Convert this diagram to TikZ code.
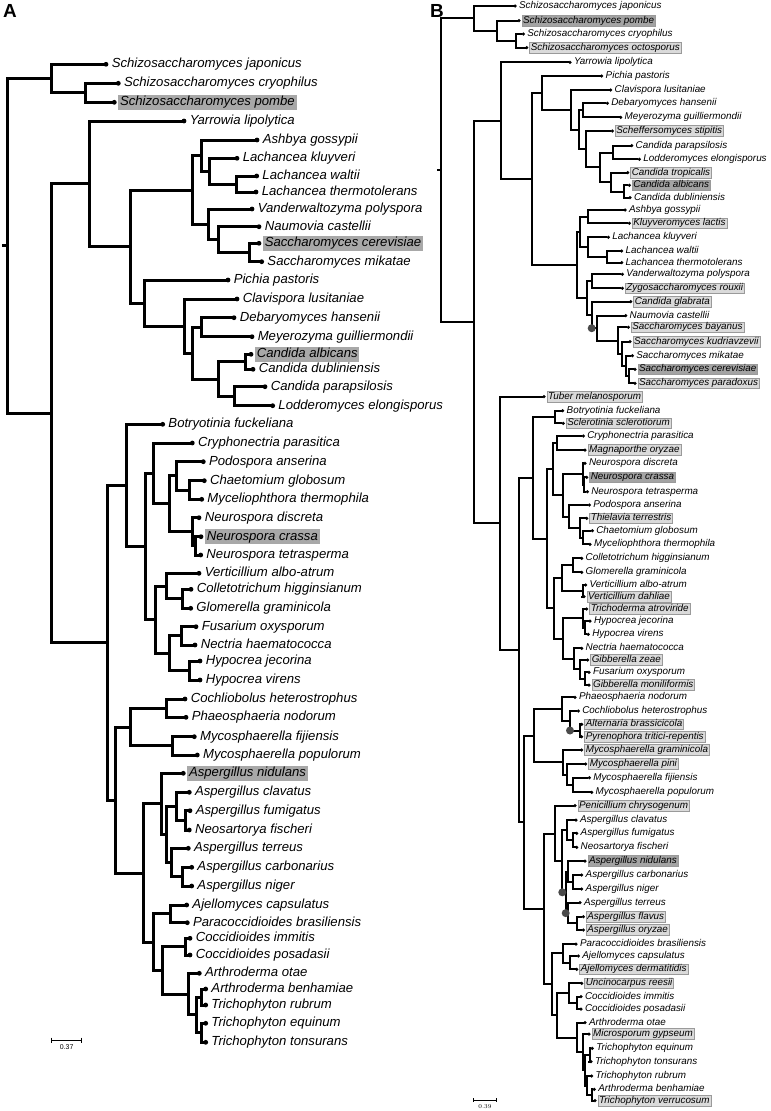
\documentclass[tikz,border=0pt]{standalone}
\usepackage{fontspec}
\usepackage{tikz}
\usepackage{xcolor}
\usetikzlibrary{positioning}
\newfontfamily\treefont{Liberation Sans}
\definecolor{phyInk}{HTML}{000000}
\definecolor{phyHi}{HTML}{A8A8A8}
\definecolor{phyHiB}{HTML}{A3A3A3}
\definecolor{phyNew}{HTML}{DADADA}
\definecolor{phyEdge}{HTML}{9A9A9A}
\definecolor{phyEvt}{HTML}{4A4A4A}
\tikzset{
  brA/.style={line width=3bp,draw=phyInk,line cap=rect},
  brB/.style={line width=2bp,draw=phyInk,line cap=rect},
  dotA/.style={circle,fill=phyInk,inner sep=0pt,minimum size=4.8bp},
  dotB/.style={circle,fill=phyInk,inner sep=0pt,minimum size=3.5bp},
  labA/.style={font=\treefont\itshape\fontsize{13.2}{15}\selectfont,inner xsep=1.8pt,inner ysep=1.2pt,
               text height=9.6pt,text depth=2.8pt},
  hiA/.style={labA,fill=phyHi},
  labB/.style={font=\treefont\itshape\fontsize{9.9}{11}\selectfont,inner xsep=1.3pt,inner ysep=0.8pt,
               text height=7.2pt,text depth=2.1pt},
  hiB/.style={labB,fill=phyHiB,draw=phyEdge,line width=0.5pt},
  newB/.style={labB,fill=phyNew,draw=phyEdge,line width=0.5pt},
  evt/.style={fill=phyEvt},
  panel/.style={font=\treefont\bfseries\fontsize{19}{21}\selectfont,inner sep=0pt},
  bar/.style={line width=0.7pt,draw=phyInk},
}

\begin{document}
\begin{tikzpicture}[x=1bp,y=-1bp]
  \fill[white] (0,0) rectangle (771,1111);
  \useasboundingbox (0,0) rectangle (771,1111);
  \node[panel] (pA) at (10,11) {A};
  \node[panel] (pB) at (437,11) {B};

  \foreach \n/\x/\y/\t/\s in {
    a1/106/64.3/Schizosaccharomyces japonicus/labA,
    a2/118.3/83.3/Schizosaccharomyces cryophilus/labA,
    a3/114.3/102.3/Schizosaccharomyces pombe/hiA,
    a4/184/121/Yarrowia lipolytica/labA,
    a5/257/140/Ashbya gossypii/labA,
    a6/237/158.3/Lachancea kluyveri/labA,
    a7/256.7/176/Lachancea waltii/labA,
    a8/256/192/Lachancea thermotolerans/labA,
    a9/252/209/Vanderwaltozyma polyspora/labA,
    a10/259/226.7/Naumovia castellii/labA,
    a11/259/243.3/Saccharomyces cerevisiae/hiA,
    a12/261.7/261.7/Saccharomyces mikatae/labA,
    a13/228/280/Pichia pastoris/labA,
    a14/237/299/Clavispora lusitaniae/labA,
    a15/234/317.7/Debaryomyces hansenii/labA,
    a16/252/336.7/Meyerozyma guilliermondii/labA,
    a17/251/354.3/Candida albicans/hiA,
    a18/253/369.3/Candida dubliniensis/labA,
    a19/265/386.7/Candida parapsilosis/labA,
    a20/272.7/405.7/Lodderomyces elongisporus/labA,
    a21/162.7/424.3/Botryotinia fuckeliana/labA,
    a22/192.3/443/Cryphonectria parasitica/labA,
    a23/203.3/461.7/Podospora anserina/labA,
    a24/204.3/480.7/Chaetomium globosum/labA,
    a25/201.7/499.3/Myceliophthora thermophila/labA,
    a26/199/517.7/Neurospora discreta/labA,
    a27/201/536.7/Neurospora crassa/hiA,
    a28/200.7/555/Neurospora tetrasperma/labA,
    a29/199/573.3/Verticillium albo-atrum/labA,
    a30/191/589.3/Colletotrichum higginsianum/labA,
    a31/190.7/608.3/Glomerella graminicola/labA,
    a32/196/626.7/Fusarium oxysporum/labA,
    a33/195/645/Nectria haematococca/labA,
    a34/200/661/Hypocrea jecorina/labA,
    a35/200/680/Hypocrea virens/labA,
    a36/185/699/Cochliobolus heterostrophus/labA,
    a37/186/717.3/Phaeosphaeria nodorum/labA,
    a38/194.3/736.7/Mycosphaerella fijiensis/labA,
    a39/197.3/755/Mycosphaerella populorum/labA,
    a40/183.3/773.3/Aspergillus nidulans/hiA,
    a41/189.3/792.3/Aspergillus clavatus/labA,
    a42/190/810.7/Aspergillus fumigatus/labA,
    a43/189.3/830/Neosartorya fischeri/labA,
    a44/188.3/848.3/Aspergillus terreus/labA,
    a45/191.7/867.3/Aspergillus carbonarius/labA,
    a46/191.7/886/Aspergillus niger/labA,
    a47/186.7/905/Ajellomyces capsulatus/labA,
    a48/187.3/922.7/Paracoccidioides brasiliensis/labA,
    a49/190/938.3/Coccidioides immitis/labA,
    a50/190/955/Coccidioides posadasii/labA,
    a51/199.3/973.3/Arthroderma otae/labA,
    a52/205.7/989/Arthroderma benhamiae/labA,
    a53/205.7/1005/Trichophyton rubrum/labA,
    a54/205.7/1023.3/Trichophyton equinum/labA,
    a55/205.7/1042.3/Trichophyton tonsurans/labA}{
    \node[dotA] (\n) at (\x,\y) {};
    \node[\s,right=1.2pt of \n] (t\n) {\t};
  }

  \foreach \n/\x/\y in {
    aRoot/7.5/245.9, aStub/3.5/245.9, aSz/51.5/78.5, aCP/85/92.8, aR/51.5/413.5,
    aY/89.5/183.5, aSc/130.5/246.5, aSac/192.7/190, aL/201/155.6, aLK/209.3/171.2,
    aLWT/236/184, aN/208.3/224.3, aNC/218.3/239.6, aCM/249.3/252.5,
    aCTG/144.5/303.5, aCT/184.3/326, aDC/192.7/353.1, aD/201.7/327.2, aC/218.3/379,
    aCA/245/361.8, aCPL/234.3/396.2,
    aP/107.5/642.5, aLS/126.5/485.5, aSO/145.5/546.5, aSA/153.3/473.5, aSB/169.3/503.9,
    aPod/176.7/475.9, aCMy/189.3/490, aNeu/192.7/531.8, aNT/195/545.9,
    aSC/155.5/619.5, aVe/166/586, aCG/182.7/598.8, aHy/169.3/653.2, aFN/181.7/635.9,
    aHH/189.3/670.5,
    aDE/115.5/800.5, aDO/130.5/727, aCPh/166.7/708.2, aMF/172.7/745.9,
    aEU/143.5/873.5, aAS/161.5/803.5, aAS2/166.7/834.4, aCFF/176.7/806.3, aFF/185/820.4,
    aTCN/171.7/862.5, aCN/182.7/876.7, aON/153.5/942.5, aAjP/170/913.9,
    aCoA/162.3/970.4, aCo/185/946.7, aAR/188.3/994.1, aAR2/196.7/1014.9,
    aBR/201.7/997, aET/201.7/1032.8}
    \coordinate (\n) at (\x,\y);

  \draw[brA] (aStub) -- (aRoot);
  \foreach \p/\u/\d in {
    aRoot/aSz/aR, aSz/a1/aCP, aCP/a2/a3, aR/aY/aP, aY/a4/aSc, aSc/aSac/aCTG,
    aSac/aL/aN, aL/a5/aLK, aLK/a6/aLWT, aLWT/a7/a8, aN/a9/aNC, aNC/a10/aCM, aCM/a11/a12,
    aCTG/a13/aCT, aCT/a14/aDC, aDC/aD/aC, aD/a15/a16, aC/aCA/aCPL, aCA/a17/a18, aCPL/a19/a20,
    aP/aLS/aDE, aLS/a21/aSO, aSO/aSA/aSC, aSA/a22/aSB, aSB/aPod/aNeu, aPod/a23/aCMy,
    aCMy/a24/a25, aNeu/a26/aNT, aNT/a27/a28, aSC/aVe/aHy, aVe/a29/aCG, aCG/a30/a31,
    aHy/aFN/aHH, aFN/a32/a33, aHH/a34/a35,
    aDE/aDO/aEU, aDO/aCPh/aMF, aCPh/a36/a37, aMF/a38/a39, aEU/aAS/aON, aAS/a40/aAS2,
    aAS2/aCFF/aTCN, aCFF/a41/aFF, aFF/a42/a43, aTCN/a44/aCN, aCN/a45/a46,
    aON/aAjP/aCoA, aAjP/a47/a48, aCoA/aCo/aAR, aCo/a49/a50, aAR/a51/aAR2,
    aAR2/aBR/aET, aBR/a52/a53, aET/a54/a55}{
    \draw[brA] (\p |- \u) -- (\p |- \d);
    \draw[brA] (\p |- \u) -- (\u);
    \draw[brA] (\p |- \d) -- (\d);
  }

  \foreach \n/\x/\y/\t/\s in {
    b1/515/6/Schizosaccharomyces japonicus/labB,
    b2/519/20.7/Schizosaccharomyces pombe/hiB,
    b3/523.3/34/Schizosaccharomyces cryophilus/labB,
    b4/526.7/47.7/Schizosaccharomyces octosporus/newB,
    b5/570/62.3/Yarrowia lipolytica/labB,
    b6/601.7/76/Pichia pastoris/labB,
    b7/610.7/90/Clavispora lusitaniae/labB,
    b8/607.3/103.3/Debaryomyces hansenii/labB,
    b9/620.7/117.3/Meyerozyma guilliermondii/labB,
    b10/612.3/131/Scheffersomyces stipitis/newB,
    b11/631.7/145.7/Candida parapsilosis/labB,
    b12/639.3/159.3/Lodderomyces elongisporus/labB,
    b13/627.7/172.7/Candida tropicalis/newB,
    b14/629.3/185.3/Candida albicans/hiB,
    b15/630/197.7/Candida dubliniensis/labB,
    b16/625/210/Ashbya gossypii/labB,
    b17/629.3/223.3/Kluyveromyces lactis/newB,
    b18/608.3/237.3/Lachancea kluyveri/labB,
    b19/621.7/251/Lachancea waltii/labB,
    b20/621.7/262.7/Lachancea thermotolerans/labB,
    b21/622.3/274.3/Vanderwaltozyma polyspora/labB,
    b22/622.3/288.3/Zygosaccharomyces rouxii/newB,
    b23/630.7/301.7/Candida glabrata/newB,
    b24/625.7/315.7/Naumovia castellii/labB,
    b25/628.3/327.3/Saccharomyces bayanus/newB,
    b26/630/341.7/Saccharomyces kudriavzevii/newB,
    b27/632.3/355.7/Saccharomyces mikatae/labB,
    b28/635/369.3/Saccharomyces cerevisiae/hiB,
    b29/635/383.3/Saccharomyces paradoxus/newB,
    b30/544/396.7/Tuber melanosporum/newB,
    b31/562.7/410.7/Botryotinia fuckeliana/labB,
    b32/563.3/423.3/Sclerotinia sclerotiorum/newB,
    b33/583.3/436/Cryphonectria parasitica/labB,
    b34/585/450/Magnaporthe oryzae/newB,
    b35/585/463.3/Neurospora discreta/labB,
    b36/586.7/477.3/Neurospora crassa/hiB,
    b37/587.3/491.7/Neurospora tetrasperma/labB,
    b38/589.3/505/Podospora anserina/labB,
    b39/586.7/518.3/Thielavia terrestris/newB,
    b40/592.3/530.7/Chaetomium globosum/labB,
    b41/590/544.3/Myceliophthora thermophila/labB,
    b42/581.7/558.3/Colletotrichum higginsianum/labB,
    b43/581.7/572.3/Glomerella graminicola/labB,
    b44/585.7/585/Verticillium albo-atrum/labB,
    b45/584/596.7/Verticillium dahliae/newB,
    b46/586.7/609/Trichoderma atroviride/newB,
    b47/590/621/Hypocrea jecorina/labB,
    b48/588.3/634.3/Hypocrea virens/labB,
    b49/581.7/648.3/Nectria haematococca/labB,
    b50/587.7/660/Gibberella zeae/newB,
    b51/589/672.3/Fusarium oxysporum/labB,
    b52/589/685/Gibberella moniliformis/newB,
    b53/575/697.3/Phaeosphaeria nodorum/labB,
    b54/578.3/711/Cochliobolus heterostrophus/labB,
    b55/581.7/724.3/Alternaria brassicicola/newB,
    b56/581.7/736.7/Pyrenophora tritici-repentis/newB,
    b57/581.7/750/Mycosphaerella graminicola/newB,
    b58/585.7/764/Mycosphaerella pini/newB,
    b59/589.3/777.7/Mycosphaerella fijiensis/labB,
    b60/591.7/792.3/Mycosphaerella populorum/labB,
    b61/575/805.7/Penicillium chrysogenum/newB,
    b62/576/820/Aspergillus clavatus/labB,
    b63/576.7/833.3/Aspergillus fumigatus/labB,
    b64/576.7/847.3/Neosartorya fischeri/labB,
    b65/585/861/Aspergillus nidulans/hiB,
    b66/581.7/875/Aspergillus carbonarius/labB,
    b67/581.7/889/Aspergillus niger/labB,
    b68/580/902.7/Aspergillus terreus/labB,
    b69/583.3/916.7/Aspergillus flavus/newB,
    b70/583.3/930/Aspergillus oryzae/newB,
    b71/576/944/Paracoccidioides brasiliensis/labB,
    b72/578.3/956/Ajellomyces capsulatus/labB,
    b73/576.7/969.3/Ajellomyces dermatitidis/newB,
    b74/581.7/983.3/Uncinocarpus reesii/newB,
    b75/581/996.7/Coccidioides immitis/labB,
    b76/581/1009/Coccidioides posadasii/labB,
    b77/585/1022.7/Arthroderma otae/labB,
    b78/589/1034/Microsporum gypseum/newB,
    b79/592.3/1048.3/Trichophyton equinum/labB,
    b80/591/1061.7/Trichophyton tonsurans/labB,
    b81/591.7/1076/Trichophyton rubrum/labB,
    b82/594.3/1089.3/Arthroderma benhamiae/labB,
    b83/595/1100.7/Trichophyton verrucosum/newB}{
    \node[dotB] (\n) at (\x,\y) {};
    \node[\s,right=0.6pt of \n] (t\n) {\t};
  }

  \foreach \n/\x/\y in {
    bRoot/441/170, bStub/438/170, bSz/474/18, bPC/497/31, bCO/515.7/40.9,
    bR/474/322, bY/501/121, bSc/532/179, bCTG/542/93, bCT/570.7/109.9,
    bDS/579.3/129.8, bD/583.3/110.3, bSch/586/149.2, bC600/600/167.3, bCPL/612.7/152.5,
    bCTA/610.7/182.1, bCAD/624/191.5,
    bSac/577/265, bKL/580/231.9, bAK/588.3/216.7, bLa/588.3/247.1, bWT/606.7/256.9,
    bNS/587/298, bVZ/591.7/281.3, bGl/591.7/315, bNa/596.7/328.2, bBa/618.3/340.6,
    bKu/621.7/353.9, bMi/626/366, bCP/629.3/376.3,
    bP/500/523, bP2/519/650, bLS/533/478, bBS/555/417, bSO/547/539,
    bSA/553/469, bCMg/556.7/443, bNP/563.3/495.2, bNeu/582.7/473.9, bNTe/584/484.5,
    bPod/569.3/516.5, bTCM/580/527.9, bCMy/582.7/537.5,
    bSC/554/608, bCGV/561.7/578.1, bCG/573.3/565.3, bVV/582.7/590.9, bHF/563.3/638.7,
    bTH/582.7/618.4, bHH/585/627.7, bNF/574/658.9, bGZF/580/669.4, bFG/585/678.7,
    bDE/524/822, bDO/534/736, bPl/562.3/709.1, bCAP/570/720.8, bAP/580/730.5,
    bMy/563.3/762.3, bPi/566.7/774.5, bMFP/572.7/785,
    bEU/544/909, bAsp/555/833.5, bAsp2/562.3/861.3, bCFF/566.7/830.2, bFF/572.7/840.3,
    bX/565.7/892.3, bNCN/568/871.5, bCN/573.3/882, bTFO/568.3/913.1, bFO/576.7/923.4,
    bON/552/984, bPA/563.3/953.4, bAjA/570/962.7, bUA/557.3/1015.3, bUC/569.3/993.1,
    bCo/576.7/1002.9, bAr/577.3/1037.5, bMT/582.7/1052.2, bT/585/1070.3, bET/590/1055,
    bTR/587.3/1085.5, bBV/591.7/1095}
    \coordinate (\n) at (\x,\y);

  \draw[brB] (bStub) -- (bRoot);
  \foreach \p/\u/\d in {
    bRoot/bSz/bR, bSz/b1/bPC, bPC/b2/bCO, bCO/b3/b4, bR/bY/bP, bY/b5/bSc, bSc/bCTG/bSac,
    bCTG/b6/bCT, bCT/b7/bDS, bDS/bD/bSch, bD/b8/b9, bSch/b10/bC600, bC600/bCPL/bCTA,
    bCPL/b11/b12, bCTA/b13/bCAD, bCAD/b14/b15,
    bSac/bKL/bNS, bKL/bAK/bLa, bAK/b16/b17, bLa/b18/bWT, bWT/b19/b20, bNS/bVZ/bGl,
    bVZ/b21/b22, bGl/b23/bNa, bNa/b24/bBa, bBa/b25/bKu, bKu/b26/bMi, bMi/b27/bCP, bCP/b28/b29,
    bP/b30/bP2, bP2/bLS/bDE, bLS/bBS/bSO, bBS/b31/b32, bSO/bSA/bSC, bSA/bCMg/bNP,
    bCMg/b33/b34, bNP/bNeu/bPod, bNeu/b35/bNTe, bNTe/b36/b37, bPod/b38/bTCM,
    bTCM/b39/bCMy, bCMy/b40/b41, bSC/bCGV/bHF, bCGV/bCG/bVV, bCG/b42/b43, bVV/b44/b45,
    bHF/bTH/bNF, bTH/b46/bHH, bHH/b47/b48, bNF/b49/bGZF, bGZF/b50/bFG, bFG/b51/b52,
    bDE/bDO/bEU, bDO/bPl/bMy, bPl/b53/bCAP, bCAP/b54/bAP, bAP/b55/b56, bMy/b57/bPi,
    bPi/b58/bMFP, bMFP/b59/b60, bEU/bAsp/bON, bAsp/b61/bAsp2, bAsp2/bCFF/bX,
    bCFF/b62/bFF, bFF/b63/b64, bX/bNCN/bTFO, bNCN/b65/bCN, bCN/b66/b67, bTFO/b68/bFO,
    bFO/b69/b70, bON/bPA/bUA, bPA/b71/bAjA, bAjA/b72/b73, bUA/bUC/bAr, bUC/b74/bCo,
    bCo/b75/b76, bAr/b77/bMT, bMT/b78/bT, bT/bET/bTR, bET/b79/b80, bTR/b81/bBV,
    bBV/b82/b83}{
    \draw[brB] (\p |- \u) -- (\p |- \d);
    \draw[brB] (\p |- \u) -- (\u);
    \draw[brB] (\p |- \d) -- (\d);
  }

  \fill[evt] (bGl |- bNa) circle[radius=4bp];
  \fill[evt] (bCAP |- bAP) circle[radius=4bp];
  \fill[evt] (bAsp2 |- bX) circle[radius=4bp];
  \fill[evt] (bX |- bTFO) circle[radius=4bp];

  \coordinate (sA1) at (51.7,1040);
  \coordinate (sA2) at (81.7,1040);
  \draw[bar] (sA1) -- (sA2);
  \draw[bar] ([yshift=2.5pt]sA1) -- ([yshift=-2.5pt]sA1);
  \draw[bar] ([yshift=2.5pt]sA2) -- ([yshift=-2.5pt]sA2);
  \node[inner sep=0pt,font=\treefont\fontsize{7}{8}\selectfont] (sAl) at (66.7,1047.5) {0.37};
  \coordinate (sB1) at (473.3,1100);
  \coordinate (sB2) at (496.7,1100);
  \draw[bar] (sB1) -- (sB2);
  \draw[bar] ([yshift=2pt]sB1) -- ([yshift=-2pt]sB1);
  \draw[bar] ([yshift=2pt]sB2) -- ([yshift=-2pt]sB2);
  \node[inner sep=0pt,font=\fontsize{6}{7}\selectfont] (sBl) at (485,1106.5) {0.39};
\end{tikzpicture}
\end{document}
